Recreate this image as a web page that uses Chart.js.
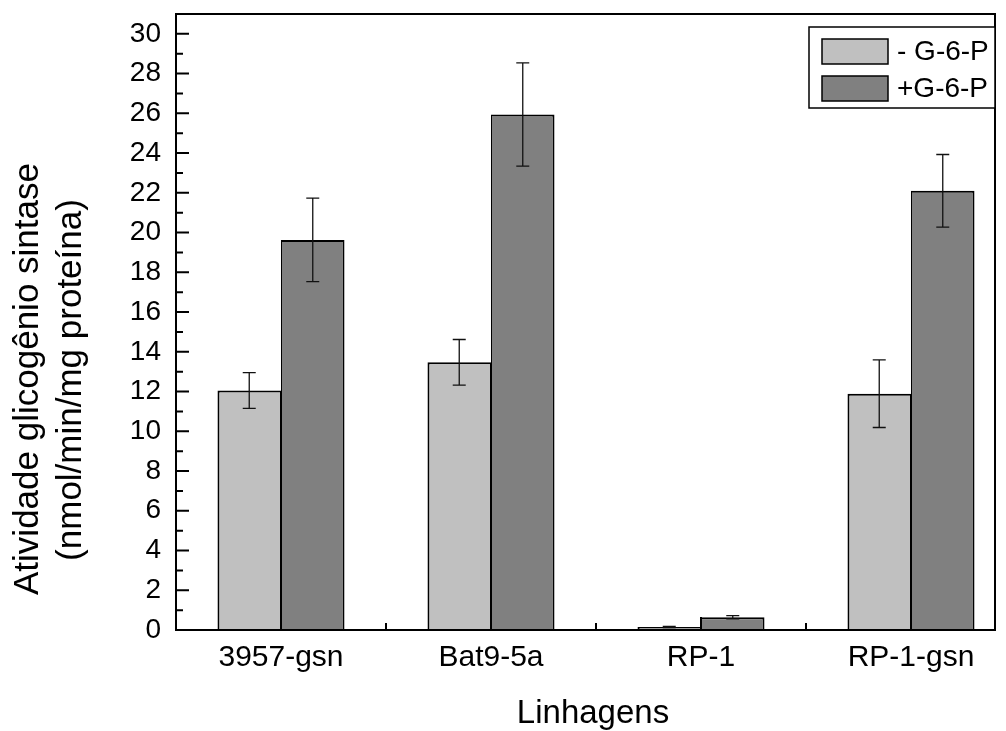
<!DOCTYPE html>
<html>
<head>
<meta charset="utf-8">
<script src="https://cdn.jsdelivr.net/npm/chart.js@4"></script>
<style>
  html, body { margin: 0; padding: 0; background: #fff; }
</style>
</head>
<body>
<canvas id="chart" width="1006" height="731"></canvas>
<script>
'use strict'
const categories = ['3957-gsn', 'Bat9-5a', 'RP-1', 'RP-1-gsn'];
const seriesNames = ['- G-6-P', '+G-6-P'];
const semG6P = [12.05, 13.47, 0.15, 11.89];
const semG6PErr = [0.9, 1.15, 0.03, 1.7];
const comG6P = [19.63, 25.94, 0.64, 22.1];
const comG6PErr = [2.1, 2.6, 0.08, 1.83];
const yTicks = [0, 2, 4, 6, 8, 10, 12, 14, 16, 18, 20, 22, 24, 26, 28, 30];
const yMinorTicks = [1, 3, 5, 7, 9, 11, 13, 15, 17, 19, 21, 23, 25, 27, 29];
const xMinorTicks = [1.5, 2.5, 3.5];
const errors = [semG6PErr, comG6PErr];

const FONT = "'Liberation Sans', Arial, sans-serif";

function toPoints(values) {
  return values.map((v, i) => ({ x: i + 1, y: v }));
}

// error bars, inward ticks, frame, legend and axis titles
const decorPlugin = {
  id: 'decor',
  afterDatasetsDraw(chart) {
    const ctx = chart.ctx;
    const xs = chart.scales.x;
    const ys = chart.scales.y;
    const area = chart.chartArea;
    ctx.save();

    // error bars
    ctx.strokeStyle = '#111';
    ctx.lineWidth = 1.3;
    chart.data.datasets.forEach((ds, i) => {
      const meta = chart.getDatasetMeta(i);
      meta.data.forEach((bar, j) => {
        const v = ds.data[j].y;
        const e = errors[i][j];
        const top = ys.getPixelForValue(v + e);
        const bot = ys.getPixelForValue(v - e);
        ctx.beginPath();
        ctx.moveTo(bar.x, top); ctx.lineTo(bar.x, bot);
        ctx.moveTo(bar.x - 6.5, top); ctx.lineTo(bar.x + 6.5, top);
        ctx.moveTo(bar.x - 6.5, bot); ctx.lineTo(bar.x + 6.5, bot);
        ctx.stroke();
      });
    });

    // ticks pointing inward
    ctx.strokeStyle = '#000';
    ctx.lineWidth = 2;
    ctx.beginPath();
    yTicks.forEach(t => {
      const y = ys.getPixelForValue(t);
      ctx.moveTo(area.left, y); ctx.lineTo(area.left + 13, y);
    });
    yMinorTicks.forEach(t => {
      const y = ys.getPixelForValue(t);
      ctx.moveTo(area.left, y); ctx.lineTo(area.left + 7, y);
    });
    categories.forEach((c, i) => {
      const x = xs.getPixelForValue(i + 1);
      ctx.moveTo(x, area.bottom); ctx.lineTo(x, area.bottom - 13);
    });
    xMinorTicks.forEach(t => {
      const x = xs.getPixelForValue(t);
      ctx.moveTo(x, area.bottom); ctx.lineTo(x, area.bottom - 7);
    });
    ctx.stroke();

    // frame
    ctx.strokeRect(area.left, area.top, area.right - area.left, area.bottom - area.top);

    // legend
    const lx = 809, ly = 27, lw = area.right - 809, lh = 81;
    ctx.fillStyle = '#fff';
    ctx.fillRect(lx, ly, lw, lh);
    ctx.lineWidth = 1.5;
    ctx.strokeRect(lx, ly, lw, lh);
    ctx.font = '28px ' + FONT;
    ctx.textBaseline = 'middle';
    ctx.textAlign = 'left';
    chart.data.datasets.forEach((ds, i) => {
      const sy = 39 + i * 37;
      ctx.fillStyle = ds.backgroundColor;
      ctx.fillRect(822, sy, 66, 25);
      ctx.strokeStyle = '#000';
      ctx.strokeRect(822, sy, 66, 25);
      ctx.fillStyle = '#000';
      ctx.fillText(seriesNames[i], 897, sy + 13);
    });

    // axis titles
    ctx.textAlign = 'center';
    ctx.textBaseline = 'alphabetic';
    ctx.font = '33px ' + FONT;
    ctx.fillText('Linhagens', 593, 723);
    ctx.font = '35px ' + FONT;
    ctx.save();
    ctx.translate(38, 379);
    ctx.rotate(-Math.PI / 2);
    ctx.fillText('Atividade glicogênio sintase', 0, 0);
    ctx.restore();
    ctx.save();
    ctx.translate(81, 380);
    ctx.rotate(-Math.PI / 2);
    ctx.fillText('(nmol/min/mg proteína)', 0, 0);
    ctx.restore();

    ctx.restore();
  }
};

const chart = new Chart(document.getElementById('chart').getContext('2d'), {
  type: 'bar',
  data: {
    datasets: [
      {
        label: seriesNames[0],
        data: toPoints(semG6P),
        backgroundColor: '#c0c0c0',
        borderColor: '#000',
        borderWidth: { left: 2, top: 2, right: 1, bottom: 0 }
      },
      {
        label: seriesNames[1],
        data: toPoints(comG6P),
        backgroundColor: '#808080',
        borderColor: '#000',
        borderWidth: { left: 1, top: 2, right: 2, bottom: 0 }
      }
    ]
  },
  options: {
    responsive: false,
    animation: false,
    events: [],
    layout: { padding: { left: 0, right: 11, top: 14, bottom: 0 } },
    datasets: { bar: { categoryPercentage: 0.605, barPercentage: 1 } },
    plugins: {
      legend: { display: false },
      tooltip: { enabled: false }
    },
    scales: {
      x: {
        type: 'linear',
        offset: false,
        min: 0.5,
        max: 4.4,
        grid: { display: false, drawTicks: false, offset: false },
        border: { display: false },
        afterBuildTicks(scale) {
          scale.ticks = categories.map((c, i) => ({ value: i + 1 }));
        },
        afterFit(scale) {
          scale.height = 101;
          scale.paddingLeft = 0;
          scale.paddingRight = 0;
        },
        ticks: {
          autoSkip: false,
          maxRotation: 0,
          padding: 10,
          color: '#000',
          font: { family: FONT, size: 30 },
          callback: v => categories[v - 1]
        }
      },
      y: {
        min: 0,
        max: 31,
        grid: { display: false, drawTicks: false },
        border: { display: false },
        afterBuildTicks(scale) {
          scale.ticks = yTicks.map(v => ({ value: v }));
        },
        afterFit(scale) {
          scale.width = 176;
          scale.paddingTop = 0;
          scale.paddingBottom = 0;
        },
        ticks: {
          autoSkip: false,
          padding: 15,
          color: '#000',
          font: { family: FONT, size: 28 }
        }
      }
    }
  },
  plugins: [decorPlugin]
});
</script>
</body>
</html>
